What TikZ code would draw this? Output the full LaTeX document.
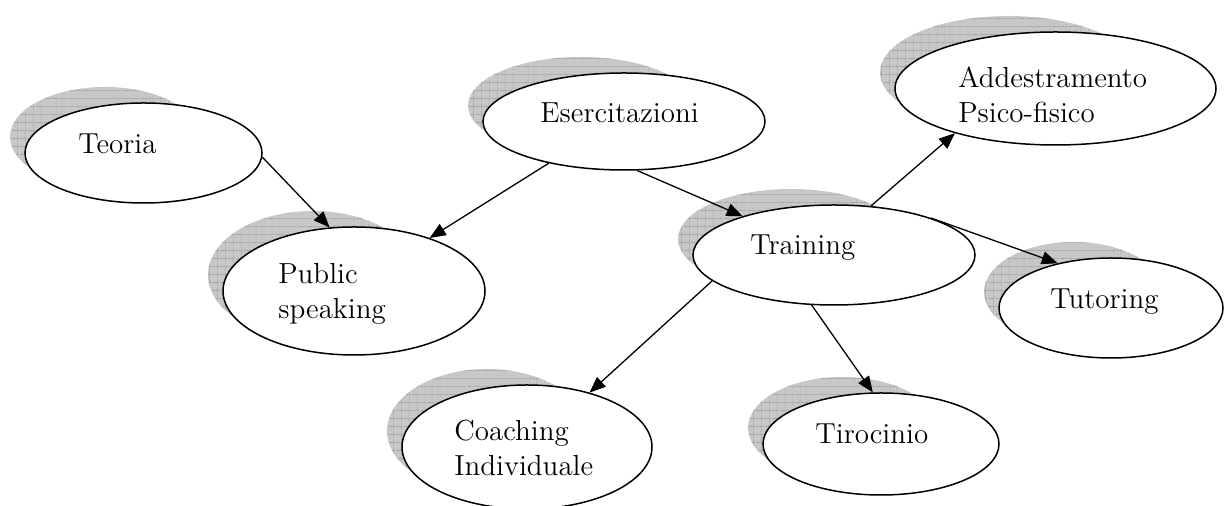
\documentclass[tikz,border=0pt]{standalone}
\usetikzlibrary{arrows.meta,patterns.meta,shapes.geometric}
\begin{document}
\begin{tikzpicture}[
        x=0.5pt, y=-0.5pt,
        bubble/.style={draw, ellipse, fill=white, line width=0.75pt, inner sep=0pt},
        hatch/.style={fill=black!22,
            postaction={pattern={Lines[distance=4pt,angle=0,line width=0.3pt]}, pattern color=black!40},
            postaction={pattern={Lines[distance=4pt,angle=90,line width=0.3pt]}, pattern color=black!40}},
        word/.style={anchor=north west, inner sep=0pt, align=left, font=\fontsize{14.5}{17.5}\selectfont},
        link/.style={-{Triangle[length=8pt,width=6.5pt]}, line width=0.65pt},
    ]
    \useasboundingbox (0,0) rectangle (1227,506);

    % shadow first, then the bubble over it
    \foreach \n/\x/\y/\a/\b in {teoria/143.5/153/118.5/50, eserc/624/121.5/141/48.5,
            addestr/1055.5/88.5/160.5/56.5, public/354/291/131/64, training/834/255/141/50,
            tutoring/1111/308/112/50, tirocinio/881/444/118/51, coaching/527/447/125/62}{
        \path[hatch] ({\x-15-0.2*\a},{\y-16}) ellipse ({0.8*\a} and \b);
        \node[bubble, minimum width=\a pt, minimum height=\b pt] (\n) at (\x,\y) {};
    }

    \node[word] (teoria-t) at (78,133) {Teoria};
    \node[word] (eserc-t) at (540,102) {Esercitazioni};
    \node[word] (addestr-t) at (958,66) {Addestramento\\Psico-fisico};
    \node[word] (public-t) at (278,263) {Public\\speaking};
    \node[word] (training-t) at (750,234) {Training};
    \node[word] (tutoring-t) at (1050,288) {Tutoring};
    \node[word] (tirocinio-t) at (815,423) {Tirocinio};
    \node[word] (coaching-t) at (454,420) {Coaching\\Individuale};

    \draw[link] (teoria.-2) -- (public.111);
    \draw[link] (eserc.-151) -- (public.35);
    \draw[link] (eserc.-75) -- (training.157);
    \draw[link] (training.53) -- (addestr.-156);
    \draw[link] (training.21) -- (tutoring.140);
    \draw[link] (training.-168) -- (coaching.41);
    \draw[link] (training.-114) -- (tirocinio.99);

\end{tikzpicture}
\end{document}
